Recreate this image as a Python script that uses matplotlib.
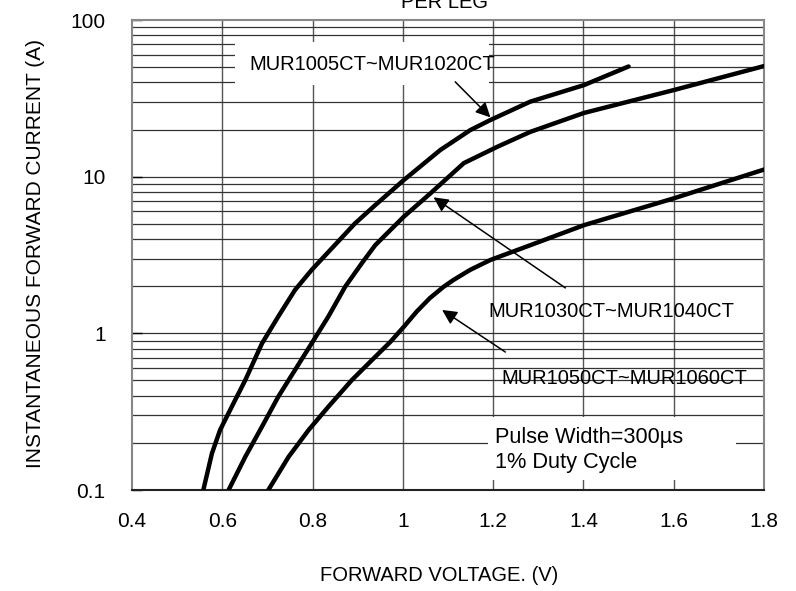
import numpy as np
import matplotlib
matplotlib.use("Agg")
import matplotlib.pyplot as plt
from matplotlib.patches import Rectangle

plt.rcParams["font.family"] = ["Liberation Sans", "DejaVu Sans"]

# forward voltage (V) / current (A)
v_1020 = [0.558, 0.577, 0.595, 0.621, 0.651, 0.688, 0.724, 0.761, 0.798, 0.839, 0.894, 0.939,
          1.002, 1.083, 1.149, 1.194, 1.282, 1.401, 1.50]
i_1020 = [0.1, 0.171, 0.241, 0.340, 0.503, 0.863, 1.28, 1.89, 2.54, 3.40, 5.03, 6.59,
          9.51, 14.8, 19.8, 23.0, 30.1, 38.4, 50.5]

v_1040 = [0.614, 0.651, 0.688, 0.724, 0.761, 0.798, 0.835, 0.872, 0.909, 0.939, 1.002, 1.061,
          1.135, 1.209, 1.282, 1.401, 1.60, 1.8]
i_1040 = [0.1, 0.163, 0.254, 0.394, 0.583, 0.863, 1.28, 1.98, 2.80, 3.66, 5.55, 7.82,
          12.2, 15.5, 19.3, 25.5, 35.7, 50.8]

v_1060 = [0.702, 0.747, 0.791, 0.835, 0.887, 0.939, 0.972, 1.002, 1.031, 1.060, 1.090, 1.112,
          1.149, 1.194, 1.282, 1.401, 1.60, 1.8]
i_1060 = [0.1, 0.163, 0.241, 0.340, 0.503, 0.709, 0.88, 1.10, 1.38, 1.68, 1.98, 2.19,
          2.54, 2.94, 3.65, 4.9, 7.27, 11.1]

x_ticks = [0.4, 0.6, 0.8, 1.0, 1.2, 1.4, 1.6, 1.8]
x_ticklabels = ["0.4", "0.6", "0.8", "1", "1.2", "1.4", "1.6", "1.8"]
y_ticks = [0.1, 1, 10, 100]
y_ticklabels = ["0.1", "1", "10", "100"]

labels = ["MUR1005CT~MUR1020CT", "MUR1030CT~MUR1040CT", "MUR1050CT~MUR1060CT"]

W, H = 796, 591
fig = plt.figure(figsize=(W / 100, H / 100), dpi=100)
ax = fig.add_axes([132 / W, 1 - 490 / H, (764 - 132) / W, (490 - 20) / H])

ax.set_yscale("log")
ax.set_xlim(0.4, 1.8)
ax.set_ylim(0.1, 100)

# grid
for v in x_ticks[1:-1]:
    ax.axvline(v, color="#555555", lw=1.0, zorder=1)
for dec in [0.1, 1, 10]:
    for k in range(2, 10):
        ax.axhline(dec * k, color="#333333", lw=0.9, zorder=1)
for dec in [1, 10]:
    ax.axhline(dec, color="#333333", lw=0.9, zorder=1)

# white boxes behind the notes
ax.add_patch(Rectangle((0.628, 38.5), 1.19 - 0.628, 72 - 38.5, facecolor="white", edgecolor="none", zorder=2))
ax.add_patch(Rectangle((1.189, 0.116), 1.737 - 1.189, 0.292 - 0.116, facecolor="white", edgecolor="none", zorder=2))

for v, i in [(v_1020, i_1020), (v_1040, i_1040), (v_1060, i_1060)]:
    ax.plot(v, i, color="black", lw=3.2, solid_capstyle="round", solid_joinstyle="round", zorder=4)

fs = 14.5
ax.text(0.932, 52, labels[0], fontsize=fs, ha="center", va="center", zorder=5)
ax.text(1.462, 1.37, labels[1], fontsize=fs, ha="center", va="center", zorder=5)
ax.text(1.491, 0.518, labels[2], fontsize=fs, ha="center", va="center", zorder=5)
ax.text(1.205, 0.181, "Pulse Width=300\u00b5s\n1% Duty Cycle", fontsize=15.7, ha="left", va="center",
        linespacing=1.25, zorder=5)

arrow = dict(arrowstyle="-|>", color="black", lw=1.1, mutation_scale=22, shrinkA=0, shrinkB=0)
ax.annotate("", xy=(1.194, 23.9), xytext=(1.116, 40.3), arrowprops=arrow, zorder=5)
ax.annotate("", xy=(1.068, 7.38), xytext=(1.360, 1.95), arrowprops=arrow, zorder=5)
ax.annotate("", xy=(1.087, 1.41), xytext=(1.227, 0.76), arrowprops=arrow, zorder=5)

ax.set_xticks(x_ticks)
ax.set_xticklabels(x_ticklabels)
ax.set_yticks(y_ticks)
ax.set_yticklabels(y_ticklabels)
ax.yaxis.set_minor_locator(matplotlib.ticker.NullLocator())
ax.tick_params(axis="x", direction="in", length=0, pad=16, labelsize=15)
ax.tick_params(axis="y", direction="in", length=7, width=1, pad=19, labelsize=15)

for side in ["left", "right", "top"]:
    ax.spines[side].set_color("#888888")
    ax.spines[side].set_linewidth(1.5)
ax.spines["bottom"].set_color("#222222")
ax.spines["bottom"].set_linewidth(1.5)

ax.set_xlabel("FORWARD VOLTAGE. (V)", fontsize=fs)
ax.xaxis.set_label_coords((439 - 132) / 632, (490 - 566) / 470)
ax.set_ylabel("INSTANTANEOUS FORWARD CURRENT (A)", fontsize=15)
ax.yaxis.set_label_coords((45 - 132) / 632, (490 - 253) / 470)

fig.text(445 / W, 1 - 8 / H, "PER LEG", fontsize=fs, ha="center", va="baseline")

fig.savefig("out.png", dpi=100)
